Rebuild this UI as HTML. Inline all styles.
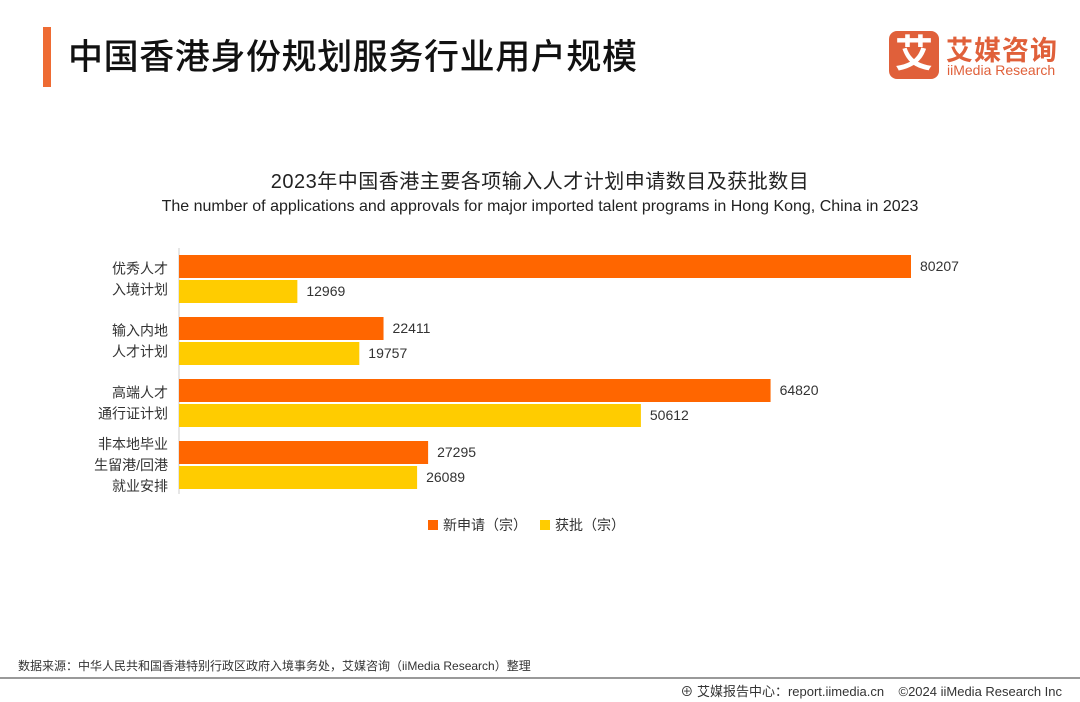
<!DOCTYPE html>
<html><head><meta charset="utf-8"><style>
body{margin:0;width:1080px;height:702px;background:#fff;position:relative;overflow:hidden;font-family:"Liberation Sans","Noto Sans CJK SC",sans-serif;}
.abs{position:absolute;}
</style></head><body>
<div class="abs" style="left:43px;top:27px;width:8px;height:60px;background:#ee6b33"></div>
<div class="abs" style="left:68px;top:29px;font-size:35px;color:#111;font-weight:500;letter-spacing:0.6px">中国香港身份规划服务行业用户规模</div>
<div class="abs" style="left:889px;top:31px;width:50px;height:48px;background:#e0603a;border-radius:8px;color:#fff;font-size:38px;line-height:48px;text-align:center;font-weight:bold">艾</div>
<div class="abs" style="left:946px;top:29px;font-size:27px;color:#e0603a;font-weight:bold;letter-spacing:1px">艾媒咨询</div>
<div class="abs" style="left:947px;top:62px;font-size:14px;color:#e0603a">iiMedia Research</div>
<div class="abs" style="left:0;width:1080px;text-align:center;top:165px;font-size:20px;color:#222;letter-spacing:0.5px">2023年中国香港主要各项输入人才计划申请数目及获批数目</div>
<div class="abs" style="left:0;width:1080px;text-align:center;top:198px;font-size:16px;color:#222">The number of applications and approvals for major imported talent programs in Hong Kong, China in 2023</div>
<svg class="abs" style="left:0;top:0" width="1080" height="702" id="chart"></svg>
<div class="abs" style="left:18px;top:657px;font-size:12px;color:#333">数据来源：中华人民共和国香港特别行政区政府入境事务处，艾媒咨询（iiMedia Research）整理</div>
<div class="abs" style="left:0;top:677px;width:1080px;height:2px;background:#999"></div>
<div class="abs" style="right:18px;top:681px;font-size:13px;color:#333">⊕ 艾媒报告中心：report.iimedia.cn &nbsp;&nbsp; ©2024 iiMedia Research Inc</div>
<script>
const categories=[["优秀人才","入境计划"],["输入内地","人才计划"],["高端人才","通行证计划"],["非本地毕业","生留港/回港","就业安排"]];
const applications=[80207,22411,64820,27295];
const approvals=[12969,19757,50612,26089];
const seriesNames=["新申请（宗）","获批（宗）"];
const colors=["#ff6600","#ffcc00"];
const svg=document.getElementById('chart');
const NS='http://www.w3.org/2000/svg';
const x0=179,scale=(911-179)/80207;
const xs=v=>x0+v*scale;
const groupTop=i=>255+i*62;
function mk(t,a,p){const e=document.createElementNS(NS,t);for(const k in a)e.setAttribute(k,a[k]);(p||svg).appendChild(e);return e;}
const ax=mk('line',{x1:x0,y1:248,x2:x0,y2:494,stroke:'#ccc','stroke-width':1});


[applications,approvals].forEach((arr,s)=>{
 arr.forEach((v,i)=>{
  const y=groupTop(i)+s*25;
  const r=mk('rect',{x:x0,y:y,width:xs(v)-x0,height:23,fill:colors[s]});
  
  
  const t=mk('text',{x:xs(v)+9,y:y+16,'font-size':14,fill:'#333'});
  t.textContent=v;
  
  
 });
});
categories.forEach((lines,i)=>{
 const cy=groupTop(i)+24;
 lines.forEach((l,j)=>{
  const t=mk('text',{x:168,y:cy+5+(j-(lines.length-1)/2)*21,'font-size':14,fill:'#333','text-anchor':'end'});
  t.textContent=l;
  
  
 });
});
const lx=[428,540];
seriesNames.forEach((n,s)=>{
 const r=mk('rect',{x:lx[s],y:520,width:10,height:10,fill:colors[s]});
 
 
 const t=mk('text',{x:lx[s]+15,y:530,'font-size':14,fill:'#333'});
 t.textContent=n;
 
 
});
</script>
</body></html>
